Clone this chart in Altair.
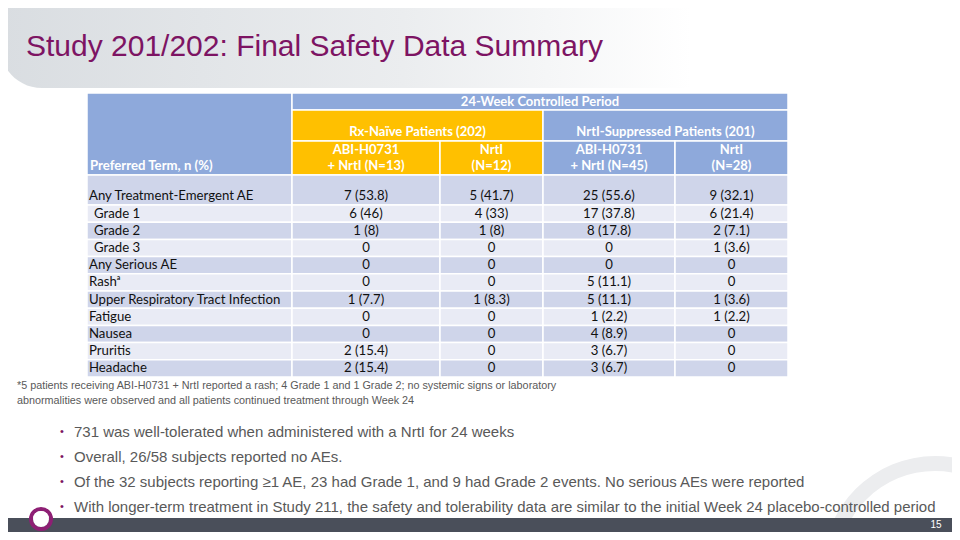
import altair as alt
import pandas as pd

# ---------------- content ----------------
title = "Study 201/202: Final Safety Data Summary"
period_label = "24-Week Controlled Period"
group_labels = ["Rx-Naïve Patients (202)", "NrtI-Suppressed Patients (201)"]
term_header = "Preferred Term, n (%)"
arm_line1 = ["ABI-H0731", "NrtI", "ABI-H0731", "NrtI"]
arm_line2 = ["+ NrtI (N=13)", "(N=12)", "+ NrtI (N=45)", "(N=28)"]

terms = ["Any Treatment-Emergent AE", "Grade 1", "Grade 2", "Grade 3",
         "Any Serious AE", "Rashᵃ", "Upper Respiratory Tract Infection",
         "Fatigue", "Nausea", "Pruritis", "Headache"]
indented = [False, True, True, True, False, False, False, False, False, False, False]
abi_naive = ["7 (53.8)", "6 (46)", "1 (8)", "0", "0", "0", "1 (7.7)", "0", "0", "2 (15.4)", "2 (15.4)"]
nrti_naive = ["5 (41.7)", "4 (33)", "1 (8)", "0", "0", "0", "1 (8.3)", "0", "0", "0", "0"]
abi_supp = ["25 (55.6)", "17 (37.8)", "8 (17.8)", "0", "0", "5 (11.1)", "5 (11.1)", "1 (2.2)", "4 (8.9)", "3 (6.7)", "3 (6.7)"]
nrti_supp = ["9 (32.1)", "6 (21.4)", "2 (7.1)", "1 (3.6)", "0", "0", "1 (3.6)", "1 (2.2)", "0", "0", "0"]

footnote = ["*5 patients receiving ABI-H0731 + NrtI reported a rash; 4 Grade 1 and 1 Grade 2; no systemic signs or laboratory",
            "abnormalities were observed and all patients continued treatment through Week 24"]
bullets = ["731 was well-tolerated when administered with a NrtI for 24 weeks",
           "Overall, 26/58 subjects reported no AEs.",
           "Of the 32 subjects reporting ≥1 AE, 23 had Grade 1, and 9 had Grade 2 events. No serious AEs were reported",
           "With longer-term treatment in Study 211, the safety and tolerability data are similar to the initial Week 24 placebo-controlled period"]
page_number = "15"

# ---------------- layout ----------------
M = 8
W, H = 960 - 2 * M, 540 - 2 * M
col_edges = [87, 292, 440, 543, 675, 788]
hdr_edges = [93, 110, 141, 175]
first_row_h = 30
row_h = 17.2

BLUE = "#8EA9DB"
ORANGE = "#FFC000"
DARK = "#CFD5EA"
LIGHT = "#E9EBF5"
PURPLE = "#7D1463"
GREY_TXT = "#595959"

xs = alt.Scale(domain=[M, 960 - M])
ys = alt.Scale(domain=[M, 540 - M], reverse=True)


def X(f):
    return alt.X(f"{f}:Q", scale=xs, axis=None)


def Y(f):
    return alt.Y(f"{f}:Q", scale=ys, axis=None)


# cells
cells = []
cells.append(dict(x0=col_edges[0], x1=col_edges[1], y0=hdr_edges[0], y1=hdr_edges[3], fill=BLUE))
cells.append(dict(x0=col_edges[1], x1=col_edges[5], y0=hdr_edges[0], y1=hdr_edges[1], fill=BLUE))
cells.append(dict(x0=col_edges[1], x1=col_edges[3], y0=hdr_edges[1], y1=hdr_edges[2], fill=ORANGE))
cells.append(dict(x0=col_edges[3], x1=col_edges[5], y0=hdr_edges[1], y1=hdr_edges[2], fill=BLUE))
for j in range(4):
    cells.append(dict(x0=col_edges[j + 1], x1=col_edges[j + 2], y0=hdr_edges[2], y1=hdr_edges[3],
                      fill=ORANGE if j < 2 else BLUE))

row_tops, row_bots = [], []
y = hdr_edges[3]
for i in range(len(terms)):
    h = first_row_h if i == 0 else row_h
    row_tops.append(y)
    row_bots.append(y + h)
    y += h
for i in range(len(terms)):
    for j in range(5):
        cells.append(dict(x0=col_edges[j], x1=col_edges[j + 1], y0=row_tops[i], y1=row_bots[i],
                          fill=DARK if i % 2 == 0 else LIGHT))
cells = pd.DataFrame(cells)

# header texts
hdr_center = []
hdr_center.append(dict(x=(col_edges[1] + col_edges[5]) / 2, y=102, t=period_label))
hdr_center.append(dict(x=(col_edges[1] + col_edges[3]) / 2, y=132, t=group_labels[0]))
hdr_center.append(dict(x=(col_edges[3] + col_edges[5]) / 2, y=132, t=group_labels[1]))
for j in range(4):
    cx = (col_edges[j + 1] + col_edges[j + 2]) / 2
    hdr_center.append(dict(x=cx, y=150, t=arm_line1[j]))
    hdr_center.append(dict(x=cx, y=166, t=arm_line2[j]))
hdr_center = pd.DataFrame(hdr_center)
hdr_left = pd.DataFrame([dict(x=col_edges[0] + 3, y=166, t=term_header)])

# body texts
body_left, body_center = [], []
for i, term in enumerate(terms):
    ty = row_bots[i] - 8.6
    body_left.append(dict(x=col_edges[0] + (7 if indented[i] else 2), y=ty, t=term))
    for j, series in enumerate([abi_naive, nrti_naive, abi_supp, nrti_supp]):
        body_center.append(dict(x=(col_edges[j + 1] + col_edges[j + 2]) / 2, y=ty, t=series[i]))
body_left = pd.DataFrame(body_left)
body_center = pd.DataFrame(body_center)

foot_df = pd.DataFrame([dict(x=17, y=386 + 14.5 * k, t=s) for k, s in enumerate(footnote)])
bullet_y = [432, 457, 482, 507]
bullet_txt = pd.DataFrame([dict(x=74, y=bullet_y[k], t=s) for k, s in enumerate(bullets)])
bullet_dot = pd.DataFrame([dict(x=62, y=bullet_y[k], t="•") for k in range(len(bullets))])

# ---------------- layers ----------------
band = alt.Chart(pd.DataFrame([dict(x0=0, x1=960, y0=4, y1=88)])).mark_rect(
    color=alt.Gradient(gradient="linear",
                       stops=[alt.GradientStop(color="#D9DDE1", offset=0),
                              alt.GradientStop(color="#EBEDEF", offset=0.42),
                              alt.GradientStop(color="#FFFFFF", offset=0.72)],
                       x1=0, x2=1, y1=0, y2=0),
    cornerRadiusBottomLeft=42,
).encode(x=X("x0"), x2="x1", y=Y("y0"), y2="y1")

title_l = alt.Chart(pd.DataFrame([dict(x=26, y=47, t=title)])).mark_text(
    align="left", baseline="middle", font="Liberation Sans",
    fontSize=30, color=PURPLE).encode(x=X("x"), y=Y("y"), text="t:N")

ring = alt.Chart(pd.DataFrame([dict(cx=935, cy=568)])).mark_arc(
    theta=0, theta2=6.2832, radius=112, radius2=97, color="#ECEDEF").encode(x=X("cx"), y=Y("cy"))

rects = alt.Chart(cells).mark_rect(stroke="white", strokeWidth=1.5).encode(
    x=X("x0"), x2="x1", y=Y("y0"), y2="y1", fill=alt.Fill("fill:N", scale=None))

FONT = "Lato"
hdr_c = alt.Chart(hdr_center).mark_text(align="center", baseline="middle", font=FONT, fontSize=13,
                                        fontWeight="bold", color="white").encode(x=X("x"), y=Y("y"), text="t:N")
hdr_l = alt.Chart(hdr_left).mark_text(align="left", baseline="middle", font=FONT, fontSize=13.2,
                                      fontWeight="bold", color="white").encode(x=X("x"), y=Y("y"), text="t:N")
body_l = alt.Chart(body_left).mark_text(align="left", baseline="middle", font=FONT, fontSize=13.2,
                                        color="#111111").encode(x=X("x"), y=Y("y"), text="t:N")
body_c = alt.Chart(body_center).mark_text(align="center", baseline="middle", font=FONT, fontSize=13.2,
                                          color="#111111").encode(x=X("x"), y=Y("y"), text="t:N")

foot_l = alt.Chart(foot_df).mark_text(align="left", baseline="middle", font="Liberation Sans", fontSize=10.8,
                                      color=GREY_TXT).encode(x=X("x"), y=Y("y"), text="t:N")
bul_t = alt.Chart(bullet_txt).mark_text(align="left", baseline="middle", font="Liberation Sans", fontSize=15,
                                        color=GREY_TXT).encode(x=X("x"), y=Y("y"), text="t:N")
bul_d = alt.Chart(bullet_dot).mark_text(align="center", baseline="middle", font="Liberation Sans", fontSize=11,
                                        color=PURPLE).encode(x=X("x"), y=Y("y"), text="t:N")

footer = alt.Chart(pd.DataFrame([dict(x0=0, x1=960, y0=518, y1=540)])).mark_rect(color="#4A4F5A").encode(
    x=X("x0"), x2="x1", y=Y("y0"), y2="y1")
logo = alt.Chart(pd.DataFrame([dict(cx=41, cy=519)])).mark_arc(
    theta=0, theta2=6.2832, radius=12, radius2=8, color="#8E1F74").encode(x=X("cx"), y=Y("cy"))
logo_in = alt.Chart(pd.DataFrame([dict(cx=41, cy=519)])).mark_arc(
    theta=0, theta2=6.2832, radius=8, color="white").encode(x=X("cx"), y=Y("cy"))
pnum = alt.Chart(pd.DataFrame([dict(x=936, y=525, t=page_number)])).mark_text(
    align="center", baseline="middle", font="Liberation Sans", fontSize=10, color="white").encode(
    x=X("x"), y=Y("y"), text="t:N")

chart = alt.layer(band, title_l, ring, rects, hdr_c, hdr_l, body_l, body_c, foot_l, bul_t, bul_d,
                  footer, logo, logo_in, pnum).properties(
    width=W, height=H, padding=0, autosize="none", background="white"
).configure_view(strokeWidth=0)

chart.save("out.html", embed_options={"renderer": "svg", "actions": False})
